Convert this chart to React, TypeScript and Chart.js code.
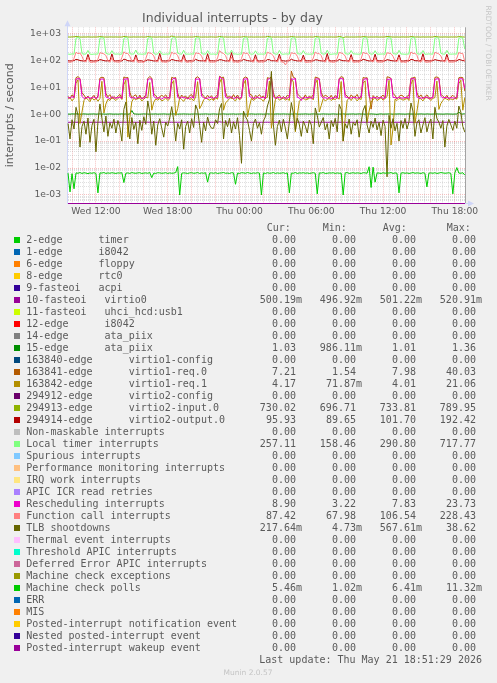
import React, { useEffect, useRef } from 'react';
import { Chart, registerables } from 'chart.js';

Chart.register(...registerables);

// ---------- time axis (hours since Wed 00:00) ----------
const START_HOUR = 9 + 40 / 60; // first sample Wed 09:40
const STEP_HOUR = 10 / 60; // 10 minute samples
const X_MIN = 9.58;
const X_MAX = 42.85;
const X_LABEL_HOURS = [12, 18, 24, 30, 36, 42];
const X_LABELS = ['Wed 12:00', 'Wed 18:00', 'Thu 00:00', 'Thu 06:00', 'Thu 12:00', 'Thu 18:00'];

// ---------- value axis ----------
const Y_MIN = 4.92e-4;
const Y_MAX = 1671;
const Y_MAJOR = [1e-3, 1e-2, 1e-1, 1, 10, 100, 1000];
const Y_LABELS = ['1e-03', '1e-02', '1e-01', '1e+00', '1e+01', '1e+02', '1e+03'];

// ---------- series (10 min samples) ----------
const VIRTIO0 = [
  0.501,0.500,0.502,0.501,0.503,0.501,0.500,0.501,0.502,0.500,0.501,0.502,
  0.500,0.501,0.501,0.502,0.504,0.501,0.500,0.502,0.501,0.501,0.500,0.501,
  0.502,0.501,0.500,0.501,0.503,0.502,0.501,0.500,0.501,0.502,0.501,0.500,
  0.501,0.502,0.501,0.500,0.505,0.501,0.502,0.501,0.500,0.501,0.502,0.501,
  0.500,0.501,0.502,0.501,0.503,0.500,0.501,0.502,0.501,0.500,0.501,0.502,
  0.501,0.500,0.501,0.502,0.504,0.502,0.501,0.500,0.501,0.502,0.501,0.500,
  0.502,0.501,0.500,0.501,0.521,0.503,0.500,0.501,0.502,0.501,0.500,0.501,
  0.501,0.502,0.501,0.500,0.503,0.501,0.502,0.501,0.500,0.501,0.502,0.501,
  0.500,0.501,0.502,0.501,0.504,0.500,0.501,0.502,0.501,0.500,0.501,0.502,
  0.501,0.500,0.501,0.502,0.503,0.502,0.501,0.500,0.501,0.502,0.501,0.500,
  0.502,0.501,0.500,0.501,0.505,0.501,0.500,0.501,0.502,0.501,0.500,0.501,
  0.501,0.502,0.501,0.500,0.503,0.501,0.502,0.501,0.497,0.501,0.502,0.501,
  0.500,0.501,0.502,0.501,0.504,0.500,0.501,0.502,0.501,0.500,0.501,0.502,
  0.501,0.500,0.501,0.502,0.503,0.502,0.501,0.500,0.501,0.502,0.501,0.500,
  0.502,0.501,0.500,0.501,0.504,0.501,0.500,0.501,0.502,0.501,0.500,0.501,
  0.501,0.502,0.501,0.500,0.503,0.501,0.502,0.501,0.500,0.501,0.502,0.501,
  0.500,0.501,0.502,0.501,0.503,0.501,0.500,0.5002,
];

const ATA_PIIX_15 = [
  1.01,1.00,1.02,1.01,1.03,1.01,1.00,1.01,1.02,1.01,1.00,1.01,
  1.01,1.02,1.00,1.01,1.02,1.01,1.01,1.00,1.01,1.02,1.01,1.00,
  1.01,1.00,1.01,1.02,1.01,1.01,1.00,1.01,1.36,1.02,1.01,1.00,
  1.00,1.01,1.02,1.01,1.01,1.00,1.01,1.01,1.02,1.00,1.01,1.01,
  1.02,1.01,1.00,1.01,1.01,1.02,1.01,1.00,1.01,1.01,1.02,1.01,
  1.01,1.00,1.01,1.01,1.02,1.01,1.00,1.01,1.01,1.02,1.01,1.00,
  1.01,1.02,1.01,1.00,1.01,1.01,1.02,1.01,1.00,1.01,1.01,1.02,
  1.00,1.01,1.01,1.02,1.01,1.00,1.01,1.01,1.02,1.01,1.00,1.01,
  1.01,1.01,1.00,1.01,1.02,1.01,1.01,1.00,1.01,1.02,1.01,1.01,
  1.02,1.01,1.01,1.00,1.01,1.01,1.02,1.01,1.00,1.01,1.01,1.02,
  1.01,1.00,1.01,1.02,1.01,1.01,1.00,1.01,1.02,1.01,1.01,1.00,
  1.01,1.02,1.01,1.00,1.01,1.01,1.02,1.01,1.00,1.01,1.01,1.02,
  1.00,1.01,1.02,1.01,1.01,1.00,1.01,1.01,1.02,1.01,1.00,0.986,
  1.01,1.02,1.00,1.01,1.01,1.02,1.01,1.00,1.01,1.01,1.02,1.01,
  1.01,1.00,1.01,1.02,1.01,1.01,1.00,1.01,1.01,1.02,1.01,1.00,
  1.02,1.01,1.00,1.01,1.01,1.02,1.01,1.01,1.00,1.01,1.02,1.01,
  1.01,1.00,1.01,1.01,1.20,1.01,1.01,1.03,
];

const VIRTIO1_REQ0 = [
  4.6,3.8,5.2,4.4,22.5,24.8,21.0,6.2,5.1,3.9,4.7,3.5,
  4.2,5.0,3.6,4.8,21.8,23.5,22.4,5.8,4.4,5.3,3.7,4.5,
  3.9,4.6,5.4,3.8,24.0,22.2,23.1,6.5,4.0,4.8,5.2,3.6,
  5.1,3.7,4.3,5.0,20.9,25.1,21.7,5.5,4.9,3.8,4.4,5.0,
  4.4,5.2,3.9,4.6,23.3,21.6,22.9,6.0,3.7,5.1,4.2,4.7,
  3.6,4.9,5.3,4.0,22.0,24.4,20.8,5.9,4.6,3.9,5.0,4.1,
  4.8,3.5,4.5,5.2,25.5,22.8,23.6,6.3,4.1,4.7,3.8,5.3,
  4.0,5.1,3.8,4.3,21.4,23.9,22.0,5.6,5.2,3.6,4.9,4.4,
  5.3,4.2,4.7,3.7,22.7,21.3,24.2,6.1,3.9,4.5,5.1,3.8,
  4.5,3.9,5.0,4.6,40.0,23.2,21.5,5.7,4.8,4.0,3.7,5.2,
  3.8,4.7,4.1,5.3,23.8,22.6,20.9,6.4,4.3,5.0,4.6,3.9,
  5.0,3.6,4.9,4.2,21.1,24.7,23.0,5.4,4.7,3.8,5.2,4.3,
  4.3,5.4,3.7,4.8,22.9,21.8,22.5,6.0,1.54,4.9,4.0,4.6,
  3.9,4.4,5.1,4.0,24.3,23.4,21.2,5.8,5.0,3.7,4.5,5.1,
  4.7,3.8,4.6,5.0,21.6,22.1,23.8,6.2,4.2,5.2,3.9,4.4,
  5.2,4.1,3.8,4.5,23.1,24.0,21.9,5.5,4.6,4.0,5.0,3.7,
  4.4,5.0,4.2,3.9,22.4,23.3,22.7,7.21,
];

const VIRTIO1_REQ1 = [
  3.6,4.2,3.1,3.8,14.0,19.0,0.45,1.2,3.2,4.0,3.5,2.9,
  4.1,3.3,3.9,3.0,3.8,16.5,1.1,2.4,3.6,3.2,4.3,3.7,
  3.2,3.8,4.4,3.5,12.5,18.2,0.14,0.8,2.9,3.9,3.4,4.0,
  3.9,3.1,3.6,4.2,4.0,15.0,1.4,2.8,3.7,3.3,3.8,3.1,
  3.4,4.0,3.2,3.7,13.2,17.6,0.9,1.6,4.1,3.5,3.0,3.9,
  4.2,3.5,3.8,3.1,4.4,16.0,1.6,2.2,3.4,4.0,3.6,3.3,
  3.7,3.2,4.1,3.6,14.5,21.06,1.4,2.6,3.1,3.8,4.2,3.5,
  3.1,4.3,3.4,3.9,12.8,18.5,0.8,1.9,3.9,3.2,3.7,4.1,
  3.8,3.6,3.0,4.0,4.2,17.0,0.3,1.1,3.5,4.1,3.3,3.6,
  4.0,3.3,3.7,3.2,20.5,15.5,0.22,0.9,3.0,3.6,4.0,3.4,
  3.5,3.9,4.2,3.4,13.6,18.8,1.2,2.1,3.8,3.1,3.5,3.8,
  3.2,3.7,3.5,4.1,3.6,16.2,0.1,0.7,3.3,3.9,3.2,4.2,
  3.9,3.1,3.8,3.5,14.2,17.3,0.5,1.3,2.8,3.5,4.1,3.2,
  3.6,4.1,3.3,3.8,4.5,18.0,0.0719,0.3,3.6,3.2,3.8,3.7,
  3.3,3.5,4.0,3.2,12.9,19.2,0.46,1.3,3.9,3.7,3.1,4.0,
  4.1,3.8,3.2,3.9,4.1,16.8,1.5,2.5,3.2,3.9,3.6,3.3,
  3.7,3.4,3.9,3.6,13.5,18.1,1.4,4.17,
];

const VIRTIO2_INPUT0 = [
  732,728,735,741,760,748,730,726,734,729,738,731,
  727,733,730,736,755,745,729,731,728,735,732,730,
  734,729,731,727,765,750,733,728,730,736,729,734,
  730,735,728,732,758,744,731,734,727,730,737,729,
  733,727,734,730,790,752,728,731,735,728,733,730,
  729,732,730,735,756,747,734,727,731,733,728,736,
  735,730,727,733,762,749,730,735,729,731,734,728,
  728,734,731,729,754,743,733,730,736,727,730,733,
  731,729,735,730,768,755,729,733,728,734,731,727,
  734,731,728,736,759,746,732,729,733,730,735,731,
  729,735,732,727,757,750,734,731,728,736,729,733,
  733,728,730,734,763,744,697,732,735,729,731,730,
  730,733,736,729,756,748,731,728,734,730,733,735,
  727,731,729,735,761,751,735,730,729,733,728,731,
  735,729,733,730,758,745,728,734,731,727,736,729,
  731,734,728,732,764,749,733,729,730,735,731,728,
  733,730,735,729,757,746,731,730.02,
];

const VIRTIO2_OUTPUT0 = [
  96,94,95,97,108,104,98,95,94,96,165,97,
  95,93,96,95,106,102,97,94,96,95,172,96,
  94,96,95,94,110,105,96,95,93,97,158,95,
  96,95,89.7,96,104,101,98,94,95,96,180,94,
  95,94,96,95,107,103,97,96,94,95,162,97,
  93,96,95,94,109,100,96,95,96,94,175,95,
  96,95,94,97,105,104,98,94,95,96,192,96,
  95,94,96,95,108,102,97,95,93,95,160,94,
  94,96,95,93,106,105,96,96,95,97,170,95,
  96,93,95,96,110,101,98,94,96,95,155,96,
  95,96,94,95,104,103,97,95,94,96,178,97,
  94,95,96,94,107,100,96,96,95,94,163,95,
  96,94,95,96,109,104,98,94,96,95,168,96,
  95,96,93,95,105,102,97,95,94,97,159,94,
  93,95,96,94,108,105,96,96,95,95,174,95,
  96,94,95,97,106,101,98,94,96,94,166,96,
  95,96,94,95,107,103,97,95.93,
];

const LOCAL_TIMER = [
  170,166,172,168,655,700,640,176,168,171,232,169,
  165,170,168,171,660,690,650,180,170,167,228,172,
  168,172,166,170,645,705,660,174,169,170,240,168,
  171,167,170,169,650,695,655,178,166,172,226,170,
  166,170,169,172,640,700,648,182,171,168,236,167,
  170,168,172,167,662,688,652,175,170,169,230,171,
  168,171,166,170,655,717,645,179,168,172,238,169,
  172,166,170,168,648,692,660,176,167,170,225,168,
  169,170,168,171,652,698,655,180,170,166,234,170,
  167,172,170,169,660,690,642,174,172,168,229,171,
  170,168,169,170,645,702,650,178,169,171,237,168,
  166,171,172,167,658,694,656,175,170,169,231,172,
  171,169,168,170,650,700,648,181,168,170,227,169,
  168,170,171,166,655,688,660,177,171,168,235,170,
  170,167,169,172,642,705,652,176,169,171,230,167,
  169,172,170,168,657,696,647,179,170,168,233,171,
  168,170,171,169,650,698,655,257,
];

const RESCHEDULING = [
  4.2,3.9,4.5,4.1,19.5,21.0,20.2,4.6,3.8,4.0,4.3,3.9,
  4.0,4.4,3.8,4.2,18.8,20.5,19.6,4.3,4.1,3.7,4.5,4.0,
  3.9,4.1,4.3,3.8,20.1,19.8,21.2,4.4,3.9,4.2,3.8,4.1,
  4.3,3.8,4.0,4.2,19.2,20.7,19.9,4.5,4.0,3.9,4.2,3.6,
  4.1,4.2,3.9,4.0,18.5,21.5,20.4,4.2,3.8,4.3,4.0,4.1,
  3.8,4.0,4.4,3.9,20.3,19.6,20.8,4.6,4.1,3.8,3.9,4.2,
  4.2,3.9,4.1,4.3,23.7,21.2,19.5,4.3,3.9,4.1,4.4,3.8,
  4.0,4.3,3.8,4.1,19.8,20.2,20.6,4.5,4.2,3.9,4.0,4.3,
  3.9,4.1,4.2,3.8,18.9,21.0,19.8,4.4,3.8,4.2,4.1,3.9,
  4.3,3.8,4.0,4.2,20.5,19.7,20.9,4.2,4.0,3.22,4.3,4.0,
  4.1,4.2,3.9,4.0,19.4,20.8,19.6,4.6,3.9,4.1,3.8,4.2,
  3.8,4.0,4.3,3.9,20.0,21.3,20.1,4.3,4.2,3.9,4.0,4.1,
  4.2,3.9,4.1,4.3,18.7,20.4,20.7,4.5,3.8,4.2,4.1,3.9,
  4.0,4.3,3.8,4.0,19.9,19.5,21.0,4.2,4.1,3.8,4.3,4.0,
  3.9,4.1,4.2,3.8,20.2,21.1,19.7,4.4,3.9,4.0,3.9,4.2,
  4.3,3.8,4.0,4.1,19.3,20.6,20.3,4.6,4.0,4.1,4.2,3.8,
  4.1,4.0,3.9,4.2,19.6,20.9,20.0,8.9,
];

const FUNCTION_CALL = [
  86,84,88,118,198,176,185,140,92,87,128,85,
  84,87,85,110,190,182,172,150,96,85,122,88,
  88,85,86,125,205,178,180,138,94,86,130,84,
  85,86,84,115,192,185,176,145,90,88,124,86,
  87,84,88,120,200,172,182,148,95,85,127,87,
  84,88,85,112,188,180,175,142,93,86,121,85,
  86,85,87,122,228,190,178,150,96,88,132,84,
  88,84,86,116,195,176,184,139,91,85,125,87,
  85,87,84,119,199,183,171,146,94,86,129,86,
  86,68,88,113,191,178,180,141,92,88,123,84,
  84,86,85,121,202,175,177,149,95,85,126,88,
  87,84,86,117,194,186,173,143,90,87,131,85,
  85,88,84,114,197,179,181,147,93,86,124,86,
  86,85,87,123,189,182,176,140,96,88,128,84,
  88,84,86,118,203,177,183,151,91,85,122,87,
  84,87,85,115,196,184,172,144,94,86,130,85,
  86,85,88,120,193,180,178,87.42,
];

const TLB_SHOOTDOWNS = [
  0.45,0.12,0.62,0.28,1.8,0.9,0.06,0.35,0.55,0.18,0.72,0.09,
  0.38,0.65,0.04,0.52,2.4,0.7,0.22,0.85,0.15,0.48,0.3,0.66,
  0.2,0.58,0.33,0.1,1.5,2.8,0.45,0.12,0.75,0.27,0.5,0.08,
  0.6,0.25,0.8,0.42,3.1,1.2,0.18,0.55,0.07,0.4,0.68,0.3,
  0.14,0.5,0.36,0.72,1.9,0.6,0.1,0.46,0.28,0.62,0.05,0.35,
  0.55,0.2,0.68,0.32,2.2,1.4,0.38,0.09,0.5,0.24,0.78,0.4,
  0.3,0.3,0.62,0.45,1.6,2.5,0.12,0.58,0.34,0.7,0.2,0.52,
  0.28,0.74,0.16,0.015,1.3,0.8,0.6,0.25,0.1,0.45,0.66,0.3,
  0.48,0.18,0.56,0.8,2.0,3.5,38.62,0.4,0.07,0.35,0.6,0.22,
  0.65,0.3,0.12,0.52,2.7,1.1,0.25,0.7,0.42,0.15,0.55,0.36,
  0.2,0.6,0.4,0.08,1.7,0.9,0.33,0.5,0.75,0.26,0.45,0.12,
  0.58,0.34,0.7,0.22,2.3,1.5,0.1,0.44,0.3,0.66,0.18,0.5,
  0.38,0.62,0.14,0.48,1.4,2.1,0.4,0.2,0.55,0.32,0.72,0.26,
  0.5,0.16,0.6,0.35,0.00473,0.9,0.3,0.68,0.24,0.46,0.1,0.58,
  0.3,0.7,0.28,0.52,2.6,1.3,0.15,0.48,0.62,0.2,0.4,0.74,
  0.22,0.45,0.66,0.12,1.8,0.7,0.5,0.3,0.58,0.06,0.36,0.64,
  0.4,0.25,0.55,0.3,2.0,1.2,0.35,0.2176,
];

const MACHINE_CHECK_POLLS = [
  0.0065,0.0013,0.0062,0.0017,0.0066,0.0064,0.0068,0.0063,0.0067,0.0065,0.0062,0.0066,
  0.0064,0.0067,0.0063,0.0012,0.0066,0.0065,0.0068,0.0063,0.0066,0.0064,0.0067,0.0065,
  0.0063,0.0066,0.0065,0.0067,0.0029,0.0064,0.0066,0.0063,0.0068,0.0065,0.0064,0.0066,
  0.0067,0.0063,0.0065,0.0066,0.0064,0.0068,0.0044,0.0065,0.0063,0.0067,0.0066,0.0064,
  0.0065,0.0067,0.0063,0.0066,0.0064,0.0065,0.0068,0.0113,0.0010,0.0064,0.0066,0.0065,
  0.0063,0.0066,0.0067,0.0064,0.0065,0.0068,0.0063,0.0066,0.0064,0.0067,0.0030,0.0065,
  0.0066,0.0064,0.0067,0.0063,0.0065,0.0066,0.0068,0.0064,0.0065,0.0063,0.0067,0.0066,
  0.0025,0.0065,0.0063,0.0067,0.0066,0.0064,0.0068,0.0065,0.0063,0.0066,0.0064,0.0067,
  0.0065,0.0010,0.0066,0.0063,0.0067,0.0064,0.0065,0.0068,0.0063,0.0066,0.0064,0.0065,
  0.0067,0.0063,0.0066,0.0012,0.0065,0.0064,0.0068,0.0063,0.0066,0.0065,0.0067,0.0064,
  0.0066,0.0063,0.0065,0.0067,0.0064,0.0011,0.0066,0.0065,0.0068,0.0063,0.0064,0.0066,
  0.0065,0.0067,0.0063,0.0066,0.0064,0.0065,0.0010,0.0066,0.0068,0.0063,0.0065,0.0067,
  0.0064,0.0066,0.0065,0.0063,0.0067,0.0066,0.0064,0.0112,0.0019,0.0108,0.0030,0.0066,
  0.0065,0.0063,0.0067,0.0064,0.0066,0.0065,0.0068,0.0063,0.0066,0.0064,0.0012,0.0065,
  0.0067,0.0064,0.0066,0.0063,0.0065,0.0068,0.0064,0.0066,0.0065,0.0063,0.0067,0.0064,
  0.0020,0.0065,0.0066,0.0064,0.0067,0.0063,0.0065,0.0068,0.0066,0.0064,0.0065,0.0067,
  0.0063,0.0011,0.0066,0.0104,0.0065,0.0064,0.0067,0.00546,
];

// ---------- legend ----------
const LEGEND_LABELS = [
  '2-edge      timer',
  '1-edge      i8042',
  '6-edge      floppy',
  '8-edge      rtc0',
  '9-fasteoi   acpi',
  '10-fasteoi   virtio0',
  '11-fasteoi   uhci_hcd:usb1',
  '12-edge      i8042',
  '14-edge      ata_piix',
  '15-edge      ata_piix',
  '163840-edge      virtio1-config',
  '163841-edge      virtio1-req.0',
  '163842-edge      virtio1-req.1',
  '294912-edge      virtio2-config',
  '294913-edge      virtio2-input.0',
  '294914-edge      virtio2-output.0',
  'Non-maskable interrupts',
  'Local timer interrupts',
  'Spurious interrupts',
  'Performance monitoring interrupts',
  'IRQ work interrupts',
  'APIC ICR read retries',
  'Rescheduling interrupts',
  'Function call interrupts',
  'TLB shootdowns',
  'Thermal event interrupts',
  'Threshold APIC interrupts',
  'Deferred Error APIC interrupts',
  'Machine check exceptions',
  'Machine check polls',
  'ERR',
  'MIS',
  'Posted-interrupt notification event',
  'Nested posted-interrupt event',
  'Posted-interrupt wakeup event',
];

const LEGEND_COLORS = [
  '#00CC00', '#0066B3', '#FF8000', '#FFCC00', '#330099', '#990099', '#CCFF00', '#FF0000',
  '#808080', '#008F00', '#00487D', '#B35A00', '#B38F00', '#6B006B', '#8FB300', '#B30000',
  '#BEBEBE', '#80FF80', '#80C9FF', '#FFC080', '#FFE680', '#AA80FF', '#EE00CC', '#FF8080',
  '#666600', '#FFBFFF', '#00FFCC', '#CC6699', '#999900', '#00CC00', '#0066B3', '#FF8000',
  '#FFCC00', '#330099', '#990099',
];

const CUR_VALUES = [0, 0, 0, 0, 0, 0.50019, 0, 0, 0, 1.03, 0, 7.21, 4.17, 0, 730.02, 95.93, 0, 257.11, 0, 0, 0, 0, 8.90, 87.42, 0.21764, 0, 0, 0, 0, 0.00546, 0, 0, 0, 0, 0];
const MIN_VALUES = [0, 0, 0, 0, 0, 0.49692, 0, 0, 0, 0.98611, 0, 1.54, 0.07187, 0, 696.71, 89.65, 0, 158.46, 0, 0, 0, 0, 3.22, 67.98, 0.00473, 0, 0, 0, 0, 0.00102, 0, 0, 0, 0, 0];
const AVG_VALUES = [0, 0, 0, 0, 0, 0.50122, 0, 0, 0, 1.01, 0, 7.98, 4.01, 0, 733.81, 101.70, 0, 290.80, 0, 0, 0, 0, 7.83, 106.54, 0.56761, 0, 0, 0, 0, 0.00641, 0, 0, 0, 0, 0];
const MAX_VALUES = [0, 0, 0, 0, 0, 0.52091, 0, 0, 0, 1.36, 0, 40.03, 21.06, 0, 789.95, 192.42, 0, 717.77, 0, 0, 0, 0, 23.73, 228.43, 38.62, 0, 0, 0, 0, 0.01132, 0, 0, 0, 0, 0];

const PLOTTED = [
  { idx: 5, values: VIRTIO0 },
  { idx: 9, values: ATA_PIIX_15 },
  { idx: 11, values: VIRTIO1_REQ0 },
  { idx: 12, values: VIRTIO1_REQ1 },
  { idx: 14, values: VIRTIO2_INPUT0 },
  { idx: 15, values: VIRTIO2_OUTPUT0 },
  { idx: 17, values: LOCAL_TIMER },
  { idx: 22, values: RESCHEDULING },
  { idx: 23, values: FUNCTION_CALL },
  { idx: 24, values: TLB_SHOOTDOWNS },
  { idx: 29, values: MACHINE_CHECK_POLLS },
];

const TEXT_COLOR = '#5a5a5a';
const AXIS_COLOR = '#CFD6F8';
const MAJOR_GRID = 'rgba(230, 80, 80, 0.35)';
const MINOR_GRID = 'rgba(150, 150, 150, 0.3)';

function fmtVal(v: number): string {
  if (v === 0) return '0.00 ';
  if (Math.abs(v) < 1) return (v * 1000).toFixed(2) + 'm';
  return v.toFixed(2) + ' ';
}

function isMajorY(v: number): boolean {
  return Y_MAJOR.some((m) => Math.abs(v / m - 1) < 1e-6);
}

const decorPlugin = {
  id: 'muninDecor',
  beforeDraw(chart: any) {
    const { ctx, chartArea } = chart;
    ctx.save();
    ctx.fillStyle = '#FFFFFF';
    ctx.fillRect(chartArea.left, chartArea.top, chartArea.right - chartArea.left, chartArea.bottom - chartArea.top);
    ctx.restore();
  },
  afterDraw(chart: any) {
    const { ctx, chartArea } = chart;
    const { left, right, top, bottom } = chartArea;
    ctx.save();
    // right frame line
    ctx.strokeStyle = 'rgba(130,130,130,0.7)';
    ctx.lineWidth = 1;
    ctx.beginPath();
    ctx.moveTo(Math.round(right) + 0.5, top);
    ctx.lineTo(Math.round(right) + 0.5, bottom);
    ctx.stroke();
    // axis extensions + arrows
    ctx.strokeStyle = AXIS_COLOR;
    ctx.fillStyle = AXIS_COLOR;
    const lx = Math.round(left) + 0.5;
    ctx.beginPath();
    ctx.moveTo(lx, top);
    ctx.lineTo(lx, top - 2);
    ctx.stroke();
    ctx.beginPath();
    ctx.moveTo(lx - 3, top - 1);
    ctx.lineTo(lx + 3, top - 1);
    ctx.lineTo(lx, top - 7);
    ctx.closePath();
    ctx.fill();
    const by = Math.round(bottom) + 0.5;
    ctx.beginPath();
    ctx.moveTo(right, by);
    ctx.lineTo(right + 3, by);
    ctx.stroke();
    ctx.beginPath();
    ctx.moveTo(right + 3, by - 3);
    ctx.lineTo(right + 3, by + 3);
    ctx.lineTo(right + 9, by);
    ctx.closePath();
    ctx.fill();
    // rrdtool watermark
    ctx.translate(487.5, 53);
    ctx.rotate(Math.PI / 2);
    ctx.font = '7.4px "DejaVu Sans", sans-serif';
    ctx.fillStyle = '#c6c6c6';
    ctx.textAlign = 'center';
    ctx.textBaseline = 'middle';
    ctx.fillText('RRDTOOL / TOBI OETIKER', 0, 0);
    ctx.restore();
  },
};

export default function App() {
  const canvasRef = useRef<HTMLCanvasElement | null>(null);

  useEffect(() => {
    document.body.style.margin = '0';
    document.body.style.background = '#F0F0F0';
    const canvas = canvasRef.current;
    if (!canvas) return;

    const xGrid: number[] = [];
    for (let h = 10; h <= X_MAX; h += 0.5) xGrid.push(h);
    const yGrid: number[] = [];
    Y_MAJOR.concat([1e-4]).sort((a, b) => a - b).forEach((d) => {
      for (let m = 1; m <= 9; m++) {
        const v = d * m;
        if (v >= Y_MIN && v <= Y_MAX) yGrid.push(v);
      }
    });

    const datasets = PLOTTED.map((s) => ({
      label: LEGEND_LABELS[s.idx],
      data: s.values.map((y, i) => ({ x: START_HOUR + i * STEP_HOUR, y })),
      borderColor: LEGEND_COLORS[s.idx],
      backgroundColor: LEGEND_COLORS[s.idx],
      borderWidth: 1,
      pointRadius: 0,
      tension: 0,
      fill: false,
      order: -s.idx,
    }));

    const axisFont = { family: '"DejaVu Sans", sans-serif', size: 9.2 };

    const chart = new Chart(canvas, {
      type: 'line',
      data: { datasets },
      plugins: [decorPlugin],
      options: {
        animation: false,
        responsive: false,
        maintainAspectRatio: false,
        devicePixelRatio: 1,
        events: [],
        layout: { padding: { left: 0, right: 32, top: 0, bottom: 0 } },
        plugins: {
          legend: { display: false },
          tooltip: { enabled: false },
          title: {
            display: true,
            text: 'Individual interrupts - by day',
            color: TEXT_COLOR,
            font: { family: '"DejaVu Sans", sans-serif', size: 12.5, weight: 'normal', lineHeight: 1.2 },
            padding: { top: 11.5, bottom: 0.8 },
          },
        },
        scales: {
          x: {
            type: 'linear',
            min: X_MIN,
            max: X_MAX,
            afterBuildTicks: (scale: any) => {
              scale.ticks = xGrid.map((v) => ({ value: v }));
            },
            afterFit: (scale: any) => {
              scale.height = 21.7;
            },
            ticks: {
              autoSkip: false,
              maxRotation: 0,
              minRotation: 0,
              padding: 3,
              color: TEXT_COLOR,
              font: axisFont,
              callback: (v: any) => {
                const k = X_LABEL_HOURS.findIndex((h) => Math.abs(h - Number(v)) < 1e-6);
                return k >= 0 ? X_LABELS[k] : '';
              },
            },
            grid: {
              drawTicks: false,
              lineWidth: 1,
              color: (ctx: any) => {
                const v = ctx.tick ? ctx.tick.value : 0;
                return Math.abs(v / 2 - Math.round(v / 2)) < 1e-6 ? MAJOR_GRID : MINOR_GRID;
              },
            },
            border: { display: true, color: '#990099', width: 1, dash: [1, 1] },
          },
          y: {
            type: 'logarithmic',
            min: Y_MIN,
            max: Y_MAX,
            afterBuildTicks: (scale: any) => {
              scale.ticks = yGrid.map((v) => ({ value: v }));
            },
            afterFit: (scale: any) => {
              scale.width = 67;
            },
            ticks: {
              autoSkip: false,
              padding: 6,
              color: TEXT_COLOR,
              font: axisFont,
              callback: (v: any) => {
                const k = Y_MAJOR.findIndex((m) => Math.abs(Number(v) / m - 1) < 1e-6);
                return k >= 0 ? Y_LABELS[k] : '';
              },
            },
            grid: {
              drawTicks: false,
              lineWidth: 1,
              color: (ctx: any) => {
                const v = ctx.tick ? ctx.tick.value : 1;
                return isMajorY(v) ? MAJOR_GRID : MINOR_GRID;
              },
            },
            border: { display: true, color: AXIS_COLOR, width: 1, dash: [1, 1] },
            title: {
              display: true,
              text: 'interrupts / second',
              color: TEXT_COLOR,
              font: { family: '"DejaVu Sans", sans-serif', size: 11, lineHeight: 1.2 },
              padding: { top: 4, bottom: 4 },
            },
          },
        },
      } as any,
    });
    return () => chart.destroy();
  }, []);

  const COL_RIGHT = [302, 362, 422, 482];
  const HEADER_LEFT = [266.7, 322.7, 382.7, 446.7];
  const HEADERS = ['Cur:', 'Min:', 'Avg:', 'Max:'];
  const ROW0_TOP = 233.7;
  const ROW_H = 12;
  const mono = '"DejaVu Sans Mono", monospace';

  return (
    <div
      style={{
        position: 'absolute',
        left: 0,
        top: 0,
        width: 497,
        height: 683,
        background: '#F0F0F0',
        overflow: 'hidden',
        fontFamily: mono,
        fontSize: 10,
        lineHeight: '12px',
        color: TEXT_COLOR,
      }}
    >
      <canvas ref={canvasRef} width={497} height={225} style={{ position: 'absolute', left: 0, top: 0 }} />
      {HEADERS.map((h, i) => (
        <div key={h} style={{ position: 'absolute', left: HEADER_LEFT[i], top: ROW0_TOP - ROW_H, whiteSpace: 'pre' }}>
          {h}
        </div>
      ))}
      {LEGEND_LABELS.map((label, r) => {
        const top = ROW0_TOP + r * ROW_H;
        const vals = [CUR_VALUES[r], MIN_VALUES[r], AVG_VALUES[r], MAX_VALUES[r]];
        return (
          <React.Fragment key={r}>
            <div
              style={{
                position: 'absolute',
                left: 14,
                top: top + 3.3,
                width: 6,
                height: 6,
                background: LEGEND_COLORS[r],
              }}
            />
            <div style={{ position: 'absolute', left: 26.3, top, whiteSpace: 'pre' }}>{label}</div>
            {vals.map((v, c) => (
              <div
                key={c}
                style={{
                  position: 'absolute',
                  left: COL_RIGHT[c] - 100,
                  width: 100,
                  top,
                  textAlign: 'right',
                  whiteSpace: 'pre',
                }}
              >
                {fmtVal(v)}
              </div>
            ))}
          </React.Fragment>
        );
      })}
      <div
        style={{
          position: 'absolute',
          left: 182,
          width: 300,
          top: ROW0_TOP + LEGEND_LABELS.length * ROW_H,
          textAlign: 'right',
          whiteSpace: 'pre',
        }}
      >
        Last update: Thu May 21 18:51:29 2026
      </div>
      <div
        style={{
          position: 'absolute',
          left: 148,
          width: 200,
          top: 668,
          textAlign: 'center',
          fontFamily: '"DejaVu Sans", sans-serif',
          fontSize: 7.5,
          lineHeight: '9px',
          color: '#c4c4c4',
        }}
      >
        Munin 2.0.57
      </div>
    </div>
  );
}
